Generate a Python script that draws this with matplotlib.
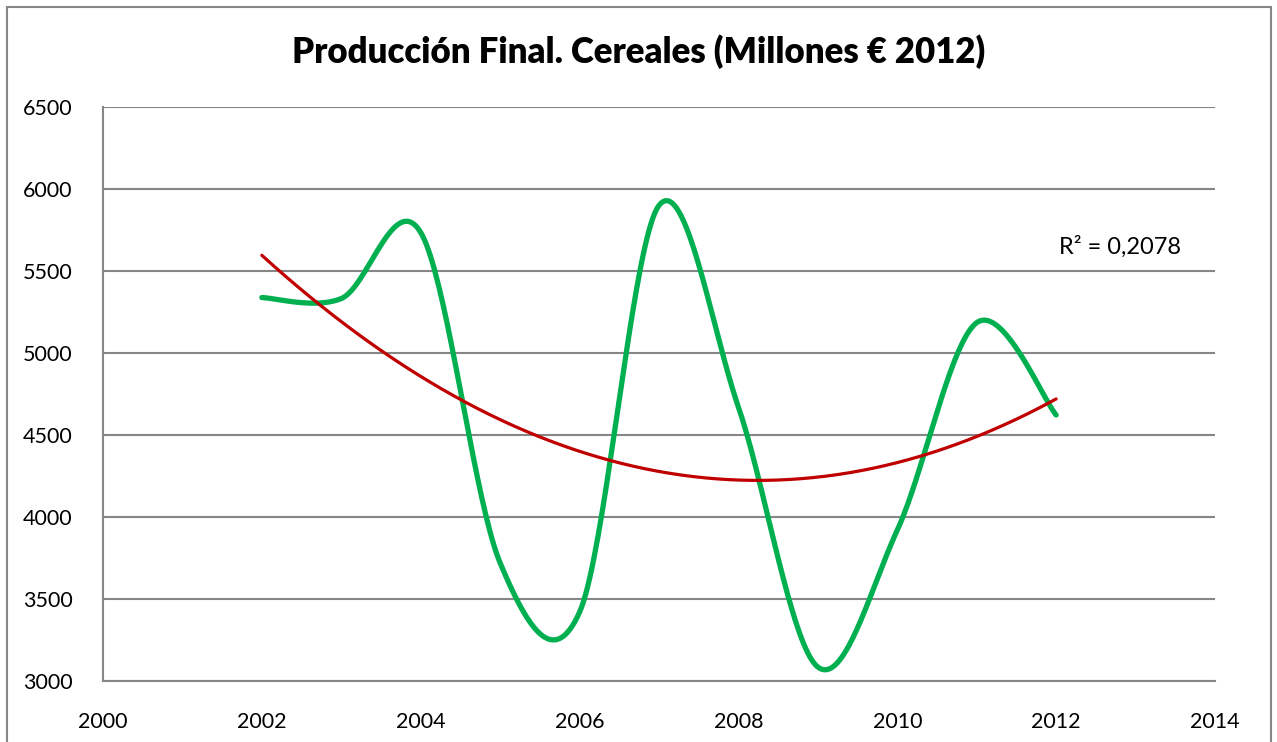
import numpy as np
import matplotlib
matplotlib.use("Agg")
import matplotlib.pyplot as plt
from matplotlib.patches import Rectangle

years = [2002, 2003, 2004, 2005, 2006, 2007, 2008, 2009, 2010, 2011, 2012]
values = [5338, 5332, 5735, 3720, 3420, 5900, 4670, 3085, 3920, 5185, 4622]
x_ticks = [2000, 2002, 2004, 2006, 2008, 2010, 2012, 2014]
y_ticks = [3000, 3500, 4000, 4500, 5000, 5500, 6000, 6500]
title = "Producción Final. Cereales (Millones € 2012)"
r2_label = "R² = 0,2078"

plt.rcParams['font.family'] = ['Lato', 'DejaVu Sans']

def smooth(xs, ys, n=40):
    P = np.column_stack([xs, ys]).astype(float)
    m = len(P)
    out = []
    for i in range(m - 1):
        p0 = P[i - 1] if i > 0 else P[i]
        p1 = P[i]
        p2 = P[i + 1]
        p3 = P[i + 2] if i + 2 < m else P[i + 1]
        b1 = p1 + (p2 - p0) / 6.0
        b2 = p2 - (p3 - p1) / 6.0
        t = np.linspace(0, 1, n)[:, None]
        seg = ((1 - t) ** 3) * p1 + 3 * ((1 - t) ** 2) * t * b1 + 3 * (1 - t) * t ** 2 * b2 + t ** 3 * p2
        out.append(seg if i == 0 else seg[1:])
    s = np.vstack(out)
    return s[:, 0], s[:, 1]

fig = plt.figure(figsize=(12.77, 7.42), dpi=100)
ax = fig.add_axes([103 / 1277, 1 - 681 / 742, (1215 - 103) / 1277, (681 - 107) / 742])

ax.set_xlim(2000, 2014)
ax.set_ylim(3000, 6500)
ax.set_xticks(x_ticks)
ax.set_yticks(y_ticks)
ax.grid(axis='y', color='#868686', linewidth=1.5)
ax.set_axisbelow(True)
for s in ['top', 'right']:
    ax.spines[s].set_visible(False)
for s in ['left', 'bottom']:
    ax.spines[s].set_color('#868686')
    ax.spines[s].set_linewidth(1.5)
ax.tick_params(length=0, labelsize=15.5, colors='black')
ax.tick_params(axis='y', pad=22)
ax.tick_params(axis='x', pad=22)

sx, sy = smooth(years, values)
ax.plot(sx, sy, color='#00B050', linewidth=3.8, solid_capstyle='round', zorder=3)

coef = np.polyfit(years, values, 2)
tx = np.linspace(years[0], years[-1], 200)
ax.plot(tx, np.polyval(coef, tx), color='#C00000', linewidth=2.3, solid_capstyle='round', zorder=4)

ax.text(2012.8, 5645, r2_label, fontsize=17, ha='center', va='center')

fig.text(0.5, 1 - 52 / 742, title, ha='center', va='center', fontsize=25, fontweight='heavy')

fig.patches.append(Rectangle((7 / 1277, -0.05), (1271 - 7) / 1277, 1 - 7 / 742 + 0.05,
                             transform=fig.transFigure, fill=False, edgecolor='#868686', linewidth=1.5))

fig.savefig('out.png', dpi=100)
